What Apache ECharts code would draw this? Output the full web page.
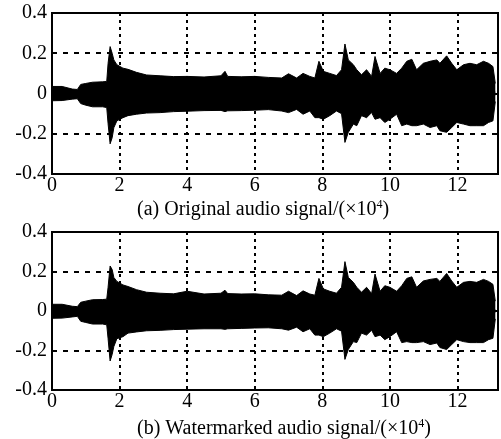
<!DOCTYPE html>
<html>
<head>
<meta charset="utf-8">
<script src="https://cdn.jsdelivr.net/npm/echarts@6/dist/echarts.min.js"></script>
<style>
html,body{margin:0;padding:0;background:#fff}
#chart{width:501px;height:439px}
</style>
</head>
<body>
<div id="chart"></div>
<script>
// sample index (x10^4) where the envelope was read
var samplePos = [0.0, 0.3, 0.6, 0.75, 0.85, 1.0, 1.2, 1.5, 1.62, 1.66, 1.72, 1.78, 1.83, 1.92, 2.1, 2.25, 2.5, 2.8, 3.2, 3.6,
    4.0, 4.5, 5.0, 5.12, 5.2, 5.6, 6.0, 6.4, 6.8, 7.0, 7.24, 7.43, 7.63, 7.78, 7.9, 8.03, 8.22, 8.42, 8.57, 8.67,
    8.77, 8.92, 9.02, 9.16, 9.31, 9.46, 9.56, 9.71, 9.85, 10.0, 10.2, 10.35, 10.5, 10.65, 10.79, 10.99, 11.19, 11.39, 11.48, 11.68,
    11.83, 11.98, 12.18, 12.37, 12.57, 12.77, 12.92, 13.05, 13.12];
// (a) original signal, upper / lower envelope
var origUpper = [0.035, 0.035, 0.022, 0.02, 0.045, 0.05, 0.056, 0.058, 0.06, 0.15, 0.233, 0.2, 0.167, 0.143, 0.126, 0.12, 0.105, 0.092, 0.088, 0.084,
    0.085, 0.082, 0.088, 0.11, 0.085, 0.083, 0.085, 0.08, 0.077, 0.098, 0.077, 0.1, 0.085, 0.077, 0.16, 0.11, 0.1, 0.089, 0.118, 0.246,
    0.167, 0.143, 0.118, 0.093, 0.118, 0.085, 0.184, 0.1, 0.126, 0.118, 0.1, 0.126, 0.16, 0.17, 0.118, 0.15, 0.16, 0.167, 0.15, 0.187,
    0.15, 0.118, 0.143, 0.15, 0.143, 0.16, 0.15, 0.134, 0.05];
var origLower = [-0.036, -0.035, -0.028, -0.026, -0.05, -0.058, -0.066, -0.066, -0.07, -0.15, -0.25, -0.22, -0.17, -0.136, -0.12, -0.11, -0.103, -0.097, -0.095, -0.09,
    -0.088, -0.085, -0.084, -0.09, -0.086, -0.085, -0.083, -0.08, -0.087, -0.095, -0.079, -0.103, -0.087, -0.12, -0.12, -0.128, -0.11, -0.087, -0.1, -0.243,
    -0.193, -0.152, -0.16, -0.11, -0.12, -0.095, -0.128, -0.12, -0.144, -0.128, -0.103, -0.16, -0.152, -0.16, -0.16, -0.152, -0.169, -0.16, -0.185, -0.193,
    -0.169, -0.144, -0.152, -0.16, -0.16, -0.16, -0.144, -0.136, -0.04];
// (b) watermarked signal, upper / lower envelope
var wmUpper = [0.034, 0.034, 0.024, 0.022, 0.044, 0.05, 0.057, 0.058, 0.06, 0.12, 0.228, 0.21, 0.17, 0.15, 0.132, 0.124, 0.108, 0.095, 0.09, 0.087,
    0.1, 0.086, 0.09, 0.105, 0.088, 0.086, 0.087, 0.082, 0.08, 0.1, 0.078, 0.102, 0.086, 0.08, 0.165, 0.112, 0.1, 0.09, 0.12, 0.25,
    0.17, 0.145, 0.12, 0.095, 0.12, 0.088, 0.187, 0.1, 0.128, 0.12, 0.1, 0.128, 0.165, 0.173, 0.12, 0.152, 0.16, 0.165, 0.15, 0.19,
    0.152, 0.12, 0.145, 0.15, 0.145, 0.16, 0.15, 0.135, 0.05];
var wmLower = [-0.037, -0.036, -0.03, -0.027, -0.052, -0.058, -0.066, -0.066, -0.07, -0.14, -0.253, -0.22, -0.18, -0.14, -0.13, -0.112, -0.106, -0.1, -0.098, -0.094,
    -0.092, -0.09, -0.09, -0.093, -0.09, -0.088, -0.086, -0.085, -0.09, -0.097, -0.082, -0.105, -0.09, -0.122, -0.122, -0.13, -0.112, -0.09, -0.102, -0.245,
    -0.195, -0.155, -0.16, -0.112, -0.122, -0.097, -0.13, -0.122, -0.145, -0.13, -0.105, -0.16, -0.155, -0.16, -0.16, -0.155, -0.17, -0.162, -0.185, -0.195,
    -0.17, -0.145, -0.155, -0.16, -0.16, -0.16, -0.145, -0.138, -0.04];
var xTicks = [0, 2, 4, 6, 8, 10, 12];
var yTicks = [-0.4, -0.2, 0, 0.2, 0.4];

var fontName = 'Liberation Serif';

function pairs(xs, ys) {
    var out = [];
    for (var i = 0; i < xs.length; i++) {
        out.push([xs[i], ys[i]]);
    }
    return out;
}

function xAxisCfg(idx) {
    return {
        type: 'value',
        gridIndex: idx,
        min: xTicks[0],
        max: 13.2,
        interval: xTicks[1] - xTicks[0],
        axisLine: { show: false },
        axisTick: { show: false },
        axisLabel: {
            showMaxLabel: false,
            margin: 2,
            color: '#000',
            fontFamily: fontName,
            fontSize: 20
        },
        splitLine: {
            show: true,
            lineStyle: { color: '#000', width: 2, type: [3, 4] }
        }
    };
}

function yAxisCfg(idx) {
    return {
        type: 'value',
        gridIndex: idx,
        min: yTicks[0],
        max: yTicks[yTicks.length - 1],
        interval: 0.2,
        axisLine: { show: false },
        axisTick: { show: false },
        axisLabel: {
            margin: 5,
            color: '#000',
            fontFamily: fontName,
            fontSize: 20,
            formatter: function (v) { return String(Math.round(v * 10) / 10); }
        },
        splitLine: {
            show: true,
            lineStyle: { color: '#000', width: 2, type: [5, 6] }
        }
    };
}

// one half of the envelope, filled towards (slightly past) zero so both halves overlap
function halfSeries(idx, ys, origin) {
    return {
        type: 'line',
        xAxisIndex: idx,
        yAxisIndex: idx,
        data: pairs(samplePos, ys),
        symbol: 'none',
        silent: true,
        z: 3,
        lineStyle: { color: '#000', width: 1 },
        areaStyle: { color: '#000', opacity: 1, origin: origin }
    };
}

function caption(label, name, top) {
    return {
        left: 132,
        top: top,
        text: '{t|' + label + ' ' + name + '/(×10}{s|4}{t|)}',
        textStyle: {
            rich: {
                t: { fontFamily: fontName, fontSize: 20, fontWeight: 'normal', color: '#000' },
                s: { fontFamily: fontName, fontSize: 12, fontWeight: 'normal', color: '#000', padding: [0, 0, 9, 0] }
            }
        }
    };
}

var myChart = echarts.init(document.getElementById('chart'));
var option = {
    animation: false,
    backgroundColor: '#fff',
    title: [
        caption('(a)', 'Original audio signal', 194),
        caption('(b)', 'Watermarked audio signal', 413)
    ],
    grid: [
        { left: 52, top: 13, width: 446, height: 161, show: true, borderColor: '#000', borderWidth: 2, backgroundColor: 'transparent' },
        { left: 52, top: 232, width: 446, height: 158, show: true, borderColor: '#000', borderWidth: 2, backgroundColor: 'transparent' }
    ],
    xAxis: [xAxisCfg(0), xAxisCfg(1)],
    yAxis: [yAxisCfg(0), yAxisCfg(1)],
    series: [
        halfSeries(0, origUpper, -0.01),
        halfSeries(0, origLower, 0.01),
        halfSeries(1, wmUpper, -0.01),
        halfSeries(1, wmLower, 0.01)
    ]
};
myChart.setOption(option);
window.addEventListener('resize', function () {
    myChart.resize();
});
</script>
</body>
</html>
